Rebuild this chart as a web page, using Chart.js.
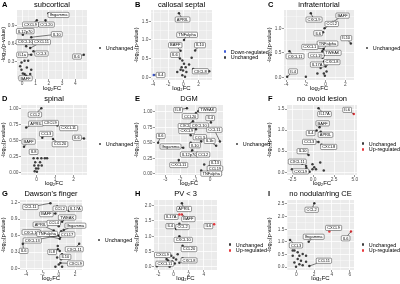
<!DOCTYPE html>
<html>
<head>
<meta charset="utf-8">
<script src="https://cdn.jsdelivr.net/npm/chart.js@4.4.0/dist/chart.umd.min.js"></script>
<style>
body { margin: 0; background: #fff; width: 400px; height: 284px; overflow: hidden; font-family: "Liberation Sans", "DejaVu Sans", Arial, sans-serif; }
.panel { position: absolute; }
.panel canvas { position: absolute; left: 0; top: 0; }
.letter { position: absolute; left: 2px; top: 0; font-weight: bold; font-size: 7.5px; line-height: 9px; }
.legend { position: absolute; font-size: 5.4px; color: #000; }
.legend .row { display: flex; align-items: center; height: 5.6px; white-space: nowrap; }
.legend .dot { width: 2.6px; height: 2.6px; border-radius: 50%; margin-right: 4.5px; }
</style>
</head>
<body>
<script>
// ---- data (log2FC, -log10 p) ----
const genesA = ['Ifngamma','CXCL9','CCL20','IL12p70','IL10','CXCL10','CXCL11','IL1a','CCL3','IL6','BAFF','','','','','','','','','',''];
const fcA = [1.98,1.10,1.75,0.05,0.68,0.30,0.60,0.68,0.85,4.63,0.18,-0.15,0.18,0.45,-0.05,0.68,0.05,0.60,0.30,-0.05,0.35];
const pA  = [1.10,0.98,0.98,0.74,0.70,0.55,0.52,0.41,0.47,0.41,0.09,0.22,0.31,0.31,0.16,0.16,0.10,0.09,0.06,0.28,0.20];
const labA = [[2.73,1.07],[0.63,0.91],[1.83,0.91],[0.23,0.80],[2.6,0.75],[0.23,0.62],[1.45,0.62],[0.0,0.41],[1.45,0.43],[4.12,0.38],[0.25,0.02]];

const genesB = ['APRIL','TNFalpha','BAFF','IL10','IL6','CXCL8','IL4','','','','','','','','','','','','',''];
const fcB = [-0.58,0.09,-0.36,1.56,-0.44,3.42,-3.9,-0.13,0.09,-0.22,0.31,-0.04,-0.36,0.40,-0.80,0.76,1.10,0.22,-0.13,1.30];
const pB  = [1.72,1.00,0.71,0.72,0.50,0.16,0.06,0.45,0.36,0.27,0.27,0.18,0.20,0.14,0.14,0.34,0.52,0.01,0.05,0.22];
const labB = [[-0.1,1.55],[0.5,1.14],[-1.07,0.86],[2.2,0.86],[-1.1,0.6],[2.25,0.16],[-3.0,0.06]];
const downB = ['IL4'];

const genesC = ['CXCL9','BAFF','CCL2','IL6','IL10','TNFalpha','CXCL1','TWEAK','CXCL11','CCL19','IL17A','CXCL8','IL4','','','','','',''];
const fcC = [-1.5,0.75,-0.1,-0.25,2.57,-0.33,-0.2,-0.2,-3.67,-0.3,-0.13,0.0,-3.9,-0.17,-0.5,-0.83,0.1,-0.07,-2.0];
const pC  = [1.31,1.13,1.0,0.92,0.69,0.53,0.58,0.45,0.53,0.4,0.33,0.22,0.01,0.08,0.19,0.08,0.12,0.03,0.01];
const labC = [[-1.17,1.18],[1.73,1.26],[0.63,1.09],[-0.75,0.9],[2.1,0.8],[0.2,0.69],[-1.6,0.62],[0.7,0.5],[-3.1,0.43],[-0.95,0.45],[-0.85,0.26],[0.65,0.31],[-3.3,0.12]];

const genesD = ['CCL2','APRIL','CXCL9','CXCL11','CCL3','IL6','BAFF','CCL20','IL8','','','','','','','','','','','','','',''];
const fcD = [0.26,-0.56,1.13,1.36,0.31,2.57,-0.68,0.89,0.0,-0.16,0.05,0.26,0.45,0.57,-0.07,0.19,-0.12,0.10,0.28,-0.03,0.02,0.09,-0.10];
const pD  = [1.0,0.70,0.73,0.71,0.54,0.53,0.40,0.52,0.30,0.22,0.22,0.22,0.22,0.22,0.16,0.16,0.11,0.11,0.11,0.06,0.01,0.06,0.02];
const labD = [[-0.09,0.9],[-0.03,0.76],[0.75,0.77],[1.74,0.69],[0.52,0.6],[2.19,0.54],[-0.43,0.48],[1.27,0.44],[-0.16,0.32]];

const genesE = ['IL8','TWEAK','CCL20','IL4','CXCL1','CXCL10','CCL11','CXCL9','CCL3','IL6','IL1b','Ifngamma','IL10','IL12p70','CCL2','CXCL11','IL13','CCL19','TNFalpha','','','','',''];
const fcE = [-1.55,-0.8,-0.95,0.05,-1.15,-0.95,0.65,-1.3,-0.6,-3.48,0.4,-1.8,-1.3,-1.2,-0.1,-2.1,0.3,0.35,-0.15,-0.4,-0.05,-0.75,0.1,-0.6];
const pE  = [1.06,1.01,0.98,0.83,0.85,0.72,0.52,0.62,0.52,0.50,0.45,0.42,0.50,0.38,0.30,0.22,0.20,0.10,0.03,0.15,0.12,0.30,0.17,0.05];
const labE = [[-2.14,1.03],[-0.19,1.03],[-1.34,0.93],[0.0,0.9],[-1.6,0.77],[-0.73,0.78],[0.28,0.71],[-1.56,0.69],[-0.69,0.59],[-3.3,0.61],[-0.04,0.53],[-2.65,0.44],[-1.02,0.46],[-1.4,0.31],[-0.47,0.31],[-2.1,0.14],[0.32,0.17],[0.32,0.085],[0.07,0.0]];

const genesF = ['IL6','IL17A','BAFF','IL4','APRIL','CCL3','CXCL8','IL10','CXCL11','CXCL9','','','','','','','','','',''];
const fcF = [4.87,0.64,0.76,0.42,0.9,0.64,1.0,-0.55,-1.3,-0.8,-0.08,0.13,-0.08,0.34,-0.42,0.85,1.27,-0.85,-2.54,-2.75];
const pF  = [1.38,1.52,1.07,0.99,0.96,0.72,0.65,0.41,0.2,0.1,0.19,0.12,0.07,0.07,0.01,0.23,0.04,0.15,0.07,0.27];
const labF = [[4.07,1.48],[1.36,1.38],[1.14,1.16],[-0.3,0.93],[1.48,0.89],[-0.47,0.72],[1.86,0.6],[-1.27,0.5],[-1.9,0.25],[-1.48,0.02]];
const upF = ['IL6'];

const genesG = ['CCL11','CCL2','IL17A','BAFF','TWEAK','APRIL','CCL4','Ifngamma','CXCL10','TNFalpha','CCL17','CXCL13','IL6','CXCL11','IL8','IL10','CXCL9','','','','','','',''];
const fcG = [-1.02,-0.2,1.22,-0.41,0.41,-0.61,0.0,0.6,0.12,0.2,0.3,0.0,-4.4,2.5,-0.1,0.4,0.2,-0.12,0.12,-0.2,0.28,0.0,-0.41,0.41];
const pG  = [1.19,1.13,1.05,1.0,0.85,0.69,0.77,0.7,0.54,0.58,0.68,0.6,0.45,0.45,0.35,0.26,0.1,0.41,0.32,0.2,0.17,0.07,0.03,0.03];
const labG = [[-3.46,1.12],[0.12,1.09],[2.04,1.09],[-1.51,0.99],[1.02,0.93],[-2.24,0.8],[-0.61,0.83],[2.04,0.78],[-3.37,0.66],[-1.42,0.63],[1.02,0.62],[-3.25,0.51],[-4.3,0.32],[1.9,0.35],[-0.81,0.3],[0.81,0.21],[2.04,0.09]];

const genesH = ['APRIL','IL17A','BAFF','IL6','IL4','CCL2','CXCL10','CCL20','CXCL9','CXCL8','CXCL11','','','','','','','','',''];
const fcH = [1.1,0.77,1.1,5.36,0.34,0.77,0.77,1.19,-0.9,1.19,-2.2,-0.3,0.0,0.34,-0.17,0.17,-0.51,0.55,-0.72,0.77];
const pH  = [2.08,1.71,1.71,1.39,1.24,1.41,1.0,0.69,0.25,0.28,0.02,0.36,0.3,0.24,0.17,0.11,0.0,0.41,0.21,0.13];
const labH = [[1.4,1.89],[-0.3,1.63],[1.96,1.56],[4.6,1.33],[-0.43,1.33],[1.19,1.3],[1.28,0.88],[2.04,0.58],[-1.45,0.39],[2.04,0.21],[-1.15,0.1]];
const upH = ['IL17A','BAFF','IL6'];

const genesI = ['CCL2','CXCL9','IL6','Ifngamma','CCL3','CCL11','','','','','','','','','','','','','',''];
const fcI = [2.02,3.71,6.14,1.39,-0.71,1.46,-0.22,0.15,-0.41,0.34,0.71,1.09,0.15,0.52,-0.22,0.34,1.09,-0.04,0.71,-0.41];
const pI  = [2.53,1.41,1.41,1.0,1.07,0.04,0.66,0.59,0.45,0.45,0.52,0.45,0.32,0.25,0.18,0.11,0.21,0.01,0.07,0.66];
const labI = [[1.72,2.27],[4.19,1.55],[5.54,1.14],[1.95,1.2],[-0.04,0.86],[3.1,0.25]];
const upI = ['CXCL9','IL6'];

// ---- tick labels ----
const xTicksA = ['0','1','2','3','4'],        yTicksA = ['0.0','0.3','0.6','0.9'];
const xTicksB = ['-4','-2','0','2'],          yTicksB = ['0.0','0.5','1.0','1.5'];
const xTicksC = ['-4','-2','0','2'],          yTicksC = ['0.0','0.5','1.0'];
const xTicksD = ['0','1','2'],                yTicksD = ['0.00','0.25','0.50','0.75','1.00'];
const xTicksE = ['-3','-2','-1','0'],         yTicksE = ['0.00','0.25','0.50','0.75','1.00'];
const xTicksF = ['-2.5','0.0','2.5','5.0'],   yTicksF = ['0.0','0.5','1.0','1.5'];
const xTicksG = ['-4','-2','0','2'],          yTicksG = ['0.0','0.3','0.6','0.9','1.2'];
const xTicksH = ['-2','0','2','4'],           yTicksH = ['0.0','0.5','1.0','1.5','2.0'];
const xTicksI = ['0','2','4','6'],            yTicksI = ['0.0','0.5','1.0','1.5','2.0','2.5'];

const FONT = '"Liberation Sans", "DejaVu Sans", Arial, sans-serif';
const COLORS = { 'Down-regulated': '#3f5bd6', 'Unchanged': '#3c3c3c', 'Up-regulated': '#e8383d' };

// panel boxes: x, y, w, h and plot area L,R,T,B; legend dot centre lx, ly
const boxes = {
  A: { x: 0,   y: 0,   w: 133, h: 94, L: 17, R: 87, T: 10, B: 79, lx: 100, ly: 48 },
  B: { x: 133, y: 0,   w: 133, h: 94, L: 18, R: 79, T: 10, B: 80, lx: 92,  ly: 51.7 },
  C: { x: 266, y: 0,   w: 134, h: 94, L: 18, R: 88, T: 10, B: 80, lx: 101, ly: 48 },
  D: { x: 0,   y: 94,  w: 133, h: 95, L: 21, R: 87, T: 11, B: 81, lx: 100, ly: 50 },
  E: { x: 133, y: 94,  w: 133, h: 95, L: 22, R: 90, T: 11, B: 81, lx: 104, ly: 50 },
  F: { x: 266, y: 94,  w: 134, h: 95, L: 21, R: 91, T: 11, B: 81, lx: 97,  ly: 49.7 },
  G: { x: 0,   y: 189, w: 133, h: 95, L: 20, R: 82, T: 11, B: 81, lx: 99,  ly: 51 },
  H: { x: 133, y: 189, w: 133, h: 95, L: 21, R: 84, T: 11, B: 81, lx: 97,  ly: 55.7 },
  I: { x: 266, y: 189, w: 134, h: 95, L: 21, R: 88, T: 11, B: 81, lx: 97,  ly: 55.7 }
};

function expand(vals) {
  const lo = Math.min(...vals), hi = Math.max(...vals), e = (hi - lo) * 0.05;
  return [lo - e, hi + e];
}

function gridValues(labels, lo, hi) {
  const major = labels.map(Number);
  const half = (major[1] - major[0]) / 2;
  const out = [];
  const k0 = Math.ceil((lo - major[0]) / half - 1e-9);
  const k1 = Math.floor((hi - major[0]) / half + 1e-9);
  for (let k = k0; k <= k1; k++) out.push(+(major[0] + k * half).toFixed(6));
  return out;
}

function scaleCfg(labels, lim, size, axis, title) {
  const major = labels.map(Number);
  const idx = v => major.findIndex(m => Math.abs(m - v) < 1e-6);
  return {
    type: 'linear', min: lim[0], max: lim[1],
    afterBuildTicks: s => { s.ticks = gridValues(labels, lim[0], lim[1]).map(v => ({ value: v })); },
    afterFit: s => { if (axis === 'x') s.height = size; else s.width = size; },
    grid: {
      color: '#ffffff',
      lineWidth: c => (c.tick && idx(c.tick.value) >= 0) ? 0.8 : 0.35,
      drawTicks: true, tickLength: 2, tickWidth: 0.5,
      tickColor: c => (c.tick && idx(c.tick.value) >= 0) ? '#333333' : 'rgba(0,0,0,0)'
    },
    border: { display: false },
    ticks: {
      autoSkip: false, maxRotation: 0, minRotation: 0, padding: 0.5,
      color: '#4d4d4d', font: { family: FONT, size: 4.8, lineHeight: 1 },
      callback: v => { const i = idx(v); return i < 0 ? '' : labels[i]; }
    },
    title: {
      display: true, text: title, color: '#000',
      font: { family: FONT, size: axis === 'x' ? 6 : 5.5, lineHeight: 1 },
      padding: axis === 'x' ? { top: 0, bottom: 2.3 } : { top: 0.5, bottom: 0 }
    }
  };
}

const panelBg = {
  id: 'panelBg',
  beforeDraw(chart) {
    const { ctx, chartArea: a } = chart;
    ctx.save();
    ctx.fillStyle = '#ebebeb';
    ctx.fillRect(a.left, a.top, a.right - a.left, a.bottom - a.top);
    ctx.restore();
  }
};

// repel-style label boxes with connector segments
const geneLabels = {
  id: 'geneLabels',
  afterDatasetsDraw(chart) {
    const o = chart.options.plugins.geneLabels;
    if (!o || !o.genes) return;
    const { ctx } = chart, xs = chart.scales.x, ys = chart.scales.y;
    ctx.save();
    ctx.font = '4px ' + FONT;
    ctx.textAlign = 'center';
    ctx.textBaseline = 'middle';
    o.genes.forEach((g, i) => {
      const at = o.at[i];
      if (!g || !at) return;
      const px = xs.getPixelForValue(o.fc[i]), py = ys.getPixelForValue(o.p[i]);
      const cx = xs.getPixelForValue(at[0]), cy = ys.getPixelForValue(at[1]);
      const w = ctx.measureText(g).width + 3.2, h = 5.2;
      const dx = px - cx, dy = py - cy;
      if (Math.abs(dx) > w / 2 || Math.abs(dy) > h / 2) {
        const t = Math.min(Math.abs(dx) > 1e-6 ? (w / 2) / Math.abs(dx) : Infinity,
                           Math.abs(dy) > 1e-6 ? (h / 2) / Math.abs(dy) : Infinity);
        const ex = cx + dx * t, ey = cy + dy * t;
        if (Math.hypot(px - ex, py - ey) > 1.5) {
          ctx.beginPath(); ctx.moveTo(ex, ey); ctx.lineTo(px, py);
          ctx.strokeStyle = '#000'; ctx.lineWidth = 0.5; ctx.stroke();
        }
      }
      ctx.beginPath();
      if (ctx.roundRect) ctx.roundRect(cx - w / 2, cy - h / 2, w, h, 1);
      else ctx.rect(cx - w / 2, cy - h / 2, w, h);
      ctx.fillStyle = '#fff'; ctx.fill();
      ctx.lineWidth = 0.4; ctx.strokeStyle = '#000'; ctx.stroke();
      ctx.fillStyle = '#000';
      ctx.fillText(g, cx, cy + 0.2);
    });
    ctx.restore();
  }
};

function makePanel(key, title, genes, fc, p, lab, xTicks, yTicks, up, down) {
  const b = boxes[key];
  const div = document.createElement('div');
  div.className = 'panel';
  div.style.cssText = `left:${b.x}px;top:${b.y}px;width:${b.w}px;height:${b.h}px;`;
  const cv = document.createElement('canvas');
  cv.width = b.w; cv.height = b.h;
  div.appendChild(cv);
  const letter = document.createElement('div');
  letter.className = 'letter';
  letter.textContent = key;
  div.appendChild(letter);
  document.body.appendChild(div);

  const status = i => up.includes(genes[i]) ? 'Up-regulated' : down.includes(genes[i]) ? 'Down-regulated' : 'Unchanged';
  const groups = ['Down-regulated', 'Unchanged', 'Up-regulated']
    .filter(s => fc.some((_, i) => status(i) === s));
  const datasets = groups.map(s => ({
    label: s,
    data: fc.map((x, i) => ({ x, y: p[i] })).filter((_, i) => status(i) === s),
    backgroundColor: COLORS[s], pointRadius: 1.25, pointBorderWidth: 0, pointHoverRadius: 1.25
  }));

  const at = genes.map((g, i) => lab[i] || null);
  new Chart(cv, {
    type: 'scatter',
    data: { datasets },
    options: {
      responsive: false, animation: false, maintainAspectRatio: false,
      layout: { padding: { left: 0, top: 0, bottom: 0, right: b.w - b.R } },
      scales: {
        x: scaleCfg(xTicks, expand(fc), b.h - b.B, 'x', 'log₂FC'),
        y: scaleCfg(yTicks, expand(p), b.L, 'y', '-log₁₀(p-value)')
      },
      plugins: {
        legend: { display: false },
        tooltip: { enabled: false },
        title: {
          display: true, text: title, color: '#000', fullSize: false,
          font: { family: FONT, size: 7.5, weight: 'normal', lineHeight: 1 },
          padding: { top: 1.3, bottom: b.T - 8.8 }
        },
        geneLabels: { genes, fc, p, at }
      }
    },
    plugins: [panelBg, geneLabels]
  });

  // legend built from the chart's datasets
  const leg = document.createElement('div');
  leg.className = 'legend';
  leg.style.left = (b.lx - 1.3) + 'px';
  leg.style.top = (b.ly - 2.8) + 'px';
  datasets.forEach(d => {
    const row = document.createElement('div');
    row.className = 'row';
    const dot = document.createElement('span');
    dot.className = 'dot';
    dot.style.background = d.backgroundColor;
    const t = document.createElement('span');
    t.textContent = d.label;
    row.appendChild(dot); row.appendChild(t);
    leg.appendChild(row);
  });
  div.appendChild(leg);
}

makePanel('A', 'subcortical', genesA, fcA, pA, labA, xTicksA, yTicksA, [], []);
makePanel('B', 'callosal septal', genesB, fcB, pB, labB, xTicksB, yTicksB, [], downB);
makePanel('C', 'infratentorial', genesC, fcC, pC, labC, xTicksC, yTicksC, [], []);
makePanel('D', 'spinal', genesD, fcD, pD, labD, xTicksD, yTicksD, [], []);
makePanel('E', 'DGM', genesE, fcE, pE, labE, xTicksE, yTicksE, [], []);
makePanel('F', 'no ovoid lesion', genesF, fcF, pF, labF, xTicksF, yTicksF, upF, []);
makePanel('G', "Dawson's finger", genesG, fcG, pG, labG, xTicksG, yTicksG, [], []);
makePanel('H', 'PV < 3', genesH, fcH, pH, labH, xTicksH, yTicksH, upH, []);
makePanel('I', 'no nodular/ring CE', genesI, fcI, pI, labI, xTicksI, yTicksI, upI, []);
</script>
</body>
</html>
